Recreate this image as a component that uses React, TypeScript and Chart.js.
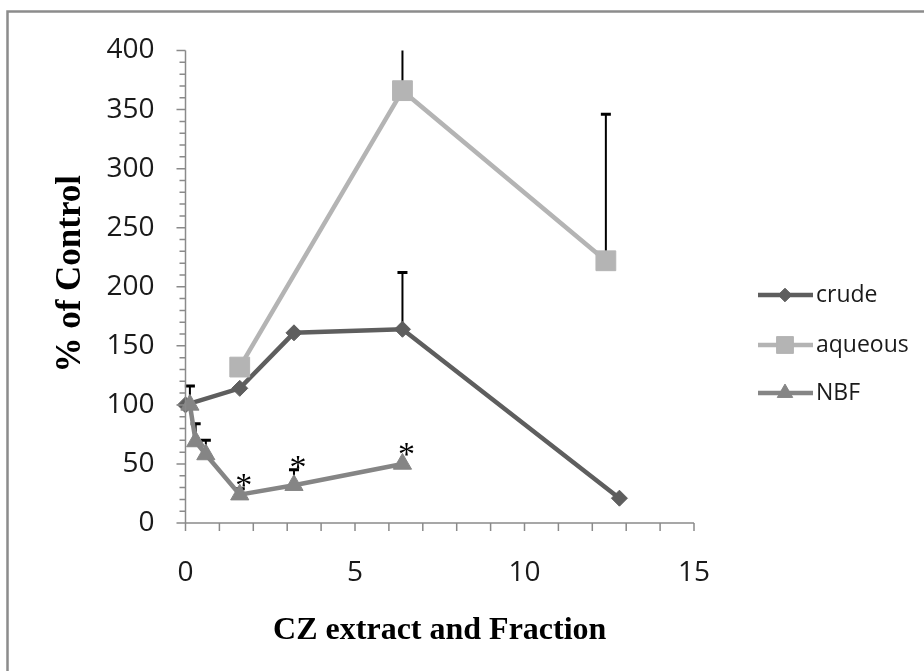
import React, { useEffect, useRef } from 'react';
import { Chart, registerables } from 'chart.js';
import { drawPoint } from 'chart.js/helpers';

Chart.register(...registerables);

// Series: concentration (x) vs. response as % of control (y), with upper error bars
const crudeX = [0, 1.6, 3.2, 6.4, 12.8];
const crudeY = [100, 114, 161, 164, 21];
const crudeErr = [0, 0, 0, 48, 0];

const aqueousX = [1.6, 6.4, 12.4];
const aqueousY = [132, 366, 222];
const aqueousErr = [0, 64, 124];

const nbfX = [0.13, 0.3, 0.6, 1.6, 3.2, 6.4];
const nbfY = [100, 69, 58, 24, 32, 50];
const nbfErr = [16, 15, 12, 5, 13, 0];
const nbfSignificant = [false, false, false, true, true, true];

const seriesNames = ['crude', 'aqueous', 'NBF'];
const seriesColors = ['#5e5e5e', '#b4b4b4', '#858585'];
const seriesStyles = ['rectRot', 'rect', 'triangle'];
const seriesRadius = [8, 14, 10.5];

const xTicks = [0, 5, 10, 15];
const yTicks = [0, 50, 100, 150, 200, 250, 300, 350, 400];

const xTitle = 'CZ extract and Fraction';
const yTitle = '% of Control';

const SANS = '"Open Sans", Lato, sans-serif';
const AXIS_COLOR = '#8a8a8a';

const seriesX = [crudeX, aqueousX, nbfX];
const seriesY = [crudeY, aqueousY, nbfY];
const seriesErr = [crudeErr, aqueousErr, nbfErr];

const framePlugin = {
  id: 'frame',
  beforeDraw(chart: any) {
    const { ctx, width, height } = chart;
    ctx.save();
    ctx.fillStyle = '#ffffff';
    ctx.fillRect(0, 0, width, height);
    ctx.strokeStyle = '#8c8c8c';
    ctx.lineWidth = 2.5;
    ctx.beginPath();
    ctx.moveTo(7.5, height);
    ctx.lineTo(7.5, 11.5);
    ctx.lineTo(width, 11.5);
    ctx.stroke();
    ctx.restore();
  },
  afterDraw(chart: any) {
    const { ctx, chartArea } = chart;
    const xs = chart.scales.x;
    const ys = chart.scales.y;
    ctx.save();
    ctx.strokeStyle = AXIS_COLOR;
    ctx.lineWidth = 1.5;
    ctx.beginPath();
    ctx.moveTo(chartArea.left, chartArea.top);
    ctx.lineTo(chartArea.left, chartArea.bottom + 8);
    ctx.moveTo(chartArea.left - 9, chartArea.bottom);
    ctx.lineTo(chartArea.right, chartArea.bottom);
    // y tick marks: major every 50, minor every 10
    for (let v = ys.min; v <= ys.max; v += 10) {
      const py = ys.getPixelForValue(v);
      const len = v % 50 === 0 ? 9 : 6;
      ctx.moveTo(chartArea.left - len, py);
      ctx.lineTo(chartArea.left, py);
    }
    // x tick marks every unit
    for (let v = xs.min; v <= xs.max; v += 1) {
      const px = xs.getPixelForValue(v);
      ctx.moveTo(px, chartArea.bottom);
      ctx.lineTo(px, chartArea.bottom + 8);
    }
    ctx.stroke();

    // axis titles
    ctx.fillStyle = '#000000';
    ctx.font = 'bold 32px "Liberation Serif", "Times New Roman", serif';
    ctx.textAlign = 'center';
    ctx.textBaseline = 'middle';
    ctx.fillText(xTitle, (chartArea.left + chartArea.right) / 2, chartArea.bottom + 108);
    ctx.translate(chartArea.left - 115, (chartArea.top + chartArea.bottom) / 2 - 13);
    ctx.rotate(-Math.PI / 2);
    ctx.font = 'bold 35px "Liberation Serif", "Times New Roman", serif';
    ctx.fillText(yTitle, 0, 0);
    ctx.restore();

    // legend
    ctx.save();
    const rows = [295, 345, 393];
    seriesNames.forEach((name, i) => {
      const ry = rows[i];
      ctx.strokeStyle = seriesColors[i];
      ctx.fillStyle = seriesColors[i];
      ctx.lineWidth = 4.5;
      ctx.beginPath();
      ctx.moveTo(758, ry);
      ctx.lineTo(813, ry);
      ctx.stroke();
      ctx.lineWidth = 1;
      drawPoint(ctx, { pointStyle: seriesStyles[i], radius: seriesRadius[i] * 0.85, rotation: 0, borderWidth: 1 } as any, 785, ry);
      ctx.fillStyle = '#1a1a1a';
      ctx.font = `23px ${SANS}`;
      ctx.textAlign = 'left';
      ctx.textBaseline = 'middle';
      ctx.fillText(name, 816, ry);
    });
    ctx.restore();
  },
};

const errorBarPlugin = {
  id: 'errorBars',
  beforeDatasetsDraw(chart: any) {
    const { ctx, chartArea } = chart;
    const xs = chart.scales.x;
    const ys = chart.scales.y;
    ctx.save();
    ctx.beginPath();
    ctx.rect(chartArea.left - 20, chartArea.top, chartArea.width + 40, chartArea.height);
    ctx.clip();
    ctx.strokeStyle = '#000000';
    seriesX.forEach((xv, s) => {
      xv.forEach((xx, i) => {
        const err = seriesErr[s][i];
        if (!err) return;
        const px = xs.getPixelForValue(xx);
        const p0 = ys.getPixelForValue(seriesY[s][i]);
        const p1 = ys.getPixelForValue(seriesY[s][i] + err);
        ctx.lineWidth = 2;
        ctx.beginPath();
        ctx.moveTo(px, p0);
        ctx.lineTo(px, p1);
        ctx.stroke();
        ctx.lineWidth = 3;
        ctx.beginPath();
        ctx.moveTo(px - 5, p1);
        ctx.lineTo(px + 5, p1);
        ctx.stroke();
      });
    });
    ctx.restore();
  },
  afterDatasetsDraw(chart: any) {
    const { ctx } = chart;
    const xs = chart.scales.x;
    const ys = chart.scales.y;
    ctx.save();
    ctx.fillStyle = '#000000';
    ctx.font = '34px "Liberation Serif", "Times New Roman", serif';
    ctx.textAlign = 'center';
    ctx.textBaseline = 'alphabetic';
    nbfX.forEach((xx, i) => {
      if (!nbfSignificant[i]) return;
      const px = xs.getPixelForValue(xx) + 4;
      const cy = Math.min(
        ys.getPixelForValue(nbfY[i] + nbfErr[i]) - 9,
        ys.getPixelForValue(nbfY[i]) - 16
      );
      ctx.fillText('*', px, cy + 17);
    });
    ctx.restore();
  },
};

export default function App() {
  const canvasRef = useRef<HTMLCanvasElement | null>(null);

  useEffect(() => {
    const canvas = canvasRef.current;
    if (!canvas) return;
    const datasets = seriesNames.map((name, s) => ({
      label: name,
      data: seriesX[s].map((x, i) => ({ x, y: seriesY[s][i] })),
      showLine: true,
      borderColor: seriesColors[s],
      backgroundColor: seriesColors[s],
      borderWidth: 4.5,
      pointStyle: seriesStyles[s],
      pointRadius: seriesRadius[s],
      pointBorderWidth: 1,
      pointBorderColor: seriesColors[s],
      pointBackgroundColor: seriesColors[s],
      tension: 0,
      clip: false,
      order: 3 - s,
    }));

    const chart = new Chart(canvas, {
      type: 'scatter',
      data: { datasets },
      plugins: [framePlugin, errorBarPlugin],
      options: {
        animation: false,
        responsive: false,
        devicePixelRatio: 1,
        layout: { padding: { left: 0, top: 50.5, right: 230, bottom: 0 } },
        plugins: { legend: { display: false }, tooltip: { enabled: false } },
        scales: {
          x: {
            type: 'linear',
            min: xTicks[0],
            max: xTicks[xTicks.length - 1],
            afterBuildTicks: (scale: any) => {
              scale.ticks = xTicks.map((v) => ({ value: v }));
            },
            afterFit: (scale: any) => {
              scale.height = 148;
            },
            grid: { display: false, drawTicks: false },
            border: { display: false },
            ticks: {
              padding: 33,
              color: '#1a1a1a',
              font: { family: SANS, size: 28 },
              maxRotation: 0,
            },
          },
          y: {
            type: 'linear',
            min: yTicks[0],
            max: yTicks[yTicks.length - 1],
            afterBuildTicks: (scale: any) => {
              scale.ticks = yTicks.map((v) => ({ value: v }));
            },
            afterFit: (scale: any) => {
              scale.width = 185.5;
            },
            grid: { display: false, drawTicks: false },
            border: { display: false },
            ticks: {
              padding: 31,
              color: '#1a1a1a',
              font: { family: SANS, size: 28 },
            },
          },
        },
      },
    } as any);

    return () => chart.destroy();
  }, []);

  return (
    <div style={{ position: 'fixed', left: 0, top: 0, width: 924, height: 671, background: '#fff' }}>
      <canvas ref={canvasRef} width={924} height={671} style={{ display: 'block', width: 924, height: 671 }} />
    </div>
  );
}
